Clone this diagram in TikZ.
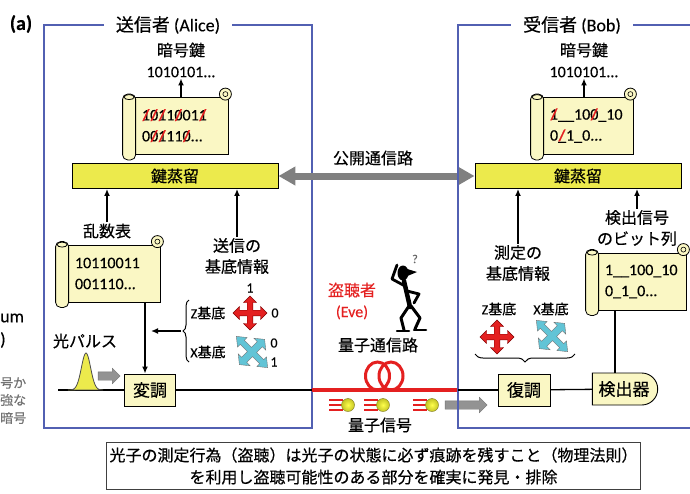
\documentclass[tikz,border=0pt]{standalone}
\usepackage{fontspec}
\setmainfont[FakeBold=0.25]{Carlito}
\newfontfamily\jp[FakeBold=0.5]{Noto Sans CJK JP}
\usetikzlibrary{arrows.meta, shapes.arrows, shapes.misc, positioning, decorations.pathreplacing}

\definecolor{panelcol}{RGB}{82,96,178}
\definecolor{boxcol}{RGB}{236,234,76}
\definecolor{papercol}{RGB}{250,247,196}
\definecolor{sigred}{RGB}{228,32,32}
\definecolor{xcyan}{RGB}{98,196,214}
\definecolor{pipegray}{RGB}{128,128,128}
\definecolor{dotcol}{RGB}{196,196,36}

% struck-out bit
\newcommand\bad[1]{\ooalign{#1\cr\hfil\textcolor{sigred}{\textbf{/}}\hfil\cr}}
% rolled edges of a paper node
\newcommand\scrollends[1]{%
  \draw[line width=0.8pt, fill=papercol, rounded corners=5pt] ([xshift=-12pt,yshift=3pt]#1.north west) rectangle ([xshift=1pt,yshift=-5pt]#1.south west);
  \draw[line width=0.8pt, fill=papercol] ([xshift=-5.5pt,yshift=0pt]#1.north west) ellipse (5pt and 2.5pt);
  \draw[line width=0.8pt, fill=papercol] ([xshift=-3pt,yshift=3pt]#1.north east) circle (6pt);
  \draw[line width=0.6pt] ([xshift=-3pt,yshift=3pt]#1.north east) circle (2.5pt);
}
% four-headed block arrow (basis symbol)
\tikzset{fourway/.pic={
  \path[pic actions] (17,0) -- (10.5,6.5) -- (10.5,2.8) -- (2.8,2.8) -- (2.8,10.5) -- (6.5,10.5) -- (0,17)
    -- (-6.5,10.5) -- (-2.8,10.5) -- (-2.8,2.8) -- (-10.5,2.8) -- (-10.5,6.5) -- (-17,0)
    -- (-10.5,-6.5) -- (-10.5,-2.8) -- (-2.8,-2.8) -- (-2.8,-10.5) -- (-6.5,-10.5) -- (0,-17)
    -- (6.5,-10.5) -- (2.8,-10.5) -- (2.8,-2.8) -- (10.5,-2.8) -- (10.5,-6.5) -- cycle;
}}

\begin{document}
\begin{tikzpicture}[x=1pt, y=-1pt]
\tikzstyle{panel} = [draw=panelcol, line width=1.3pt]
\tikzstyle{ttl} = [fill=white, inner xsep=12pt, font=\fontsize{18}{20}\selectfont]
\tikzstyle{lbl} = [align=center, inner sep=1pt, font=\fontsize{16}{21}\selectfont]
\tikzstyle{jlbl} = [align=center, inner sep=1pt, font=\jp\fontsize{16}{21}\selectfont]
\tikzstyle{small} = [inner sep=1pt, font=\fontsize{14}{16}\selectfont]
\tikzstyle{kdbox} = [draw, line width=0.9pt, fill=boxcol, minimum width=206pt, minimum height=25pt, font=\jp\fontsize{16}{18}\selectfont]
\tikzstyle{opbox} = [draw, line width=0.9pt, fill=papercol, minimum height=32pt, font=\jp\fontsize{17}{18}\selectfont]
\tikzstyle{paper} = [draw, line width=0.8pt, fill=papercol, align=left, minimum height=57pt, inner xsep=7pt, font=\fontsize{16}{21}\selectfont]
\tikzstyle{connect} = [-{Latex[length=7pt,width=6pt]}, line width=1.4pt]
\tikzstyle{wire} = [line width=1.3pt]
\tikzstyle{fiber} = [sigred, line width=3.5pt]
\tikzstyle{pub} = [pipegray, line width=7pt, {Triangle[length=17pt,width=18pt]}-{Triangle[length=17pt,width=18pt]}]
\tikzstyle{blockarr} = [single arrow, draw=black!55, fill=pipegray!85, inner sep=4pt, single arrow head extend=3.5pt]
\tikzstyle{zsym} = [fill=sigred, draw=red!50!black, line width=0.4pt]
\tikzstyle{xsym} = [fill=xcyan, draw=black!55, line width=0.4pt, rotate=45, xscale=1.05, yscale=1.3]
\useasboundingbox (0,0) rectangle (690,493);

% text running in from the left edge
\node[anchor=west, inner sep=0pt, font=\fontsize{18}{20}\selectfont] (cutA) at (0,318) {um};
\node[anchor=west, inner sep=0pt, font=\fontsize{18}{20}\selectfont] (cutB) at (0,340) {)};
\node[anchor=west, inner sep=0pt, text=black!55, font=\jp\fontsize{13}{13}\selectfont] (cutC) at (0,383) {号か};
\node[anchor=west, inner sep=0pt, text=black!55, font=\jp\fontsize{13}{13}\selectfont] (cutD) at (0,400) {強な};
\node[anchor=west, inner sep=0pt, text=black!55, font=\jp\fontsize{13}{13}\selectfont] (cutE) at (0,418) {暗号};

\node[font=\bfseries\fontsize{20}{22}\selectfont] (tag) at (21,24) {(a)};

% ---- sender ----
\draw[panel] (44,25) rectangle (312,428);
\node[ttl] (alice) at (168,25) {{\jp 送信者} (Alice)};

\node[lbl] (keyA) at (181,60) {{\jp 暗号鍵}\\1010101...};
\node[paper, minimum width=93pt, text width=79pt] (siftA) at (181.5,126) {\bad{1}\bad{0}\bad{1}1\bad{0}01\bad{1}\\0\bad{0}\bad{1}11\bad{0}...};
\scrollends{siftA}
\draw[connect] (keyA |- siftA.north) -- (keyA);
\node[kdbox] (kdA) at (175,176) {鍵蒸留};

\node[jlbl] (randlbl) at (107,231) {乱数表};
\node[paper, minimum width=92pt, text width=78pt] (rand) at (114,273.5) {10110011\\001110...};
\scrollends{rand}
\draw[connect] (randlbl) -- (randlbl |- kdA.south);

\node[jlbl] (basisA) at (237,256) {送信の\\基底情報};
\draw[connect] (basisA) -- (basisA |- kdA.south);

\node[small] (zA) at (208,313) {Z{\jp 基底}};
\node[small] (xA) at (208,352) {X{\jp 基底}};
\pic[zsym] at (250,313) {fourway};
\node[small] (z1A) at (250,288) {1};
\node[small] (z0A) at (275,313) {0};
\pic[xsym] at (252,352) {fourway};
\node[small] (x0A) at (274,343) {0};
\node[small] (x1A) at (274,362) {1};
\draw[line width=1pt, decorate, decoration={brace, amplitude=6pt}] (189,362) -- (189,300);
\coordinate (braceA) at (181,331);
\coordinate (joinA) at (151,331);
\draw[connect] (braceA) -- (joinA);

\node[opbox, minimum width=51pt] (mod) at (150,390) {変調};
\draw[connect] ([xshift=-5pt]mod.north |- rand.south) -- ([xshift=-5pt]mod.north);

\coordinate (start) at (58,390);
\coordinate (outA) at (312,390);
\coordinate (inB) at (458,390);
\draw[wire] (start) -- (mod);
\draw[wire] (mod) -- (outA);
\node[jlbl] (pulselbl) at (85,341) {光パルス};
\draw[fill=boxcol, draw=black!70, line width=0.8pt] (68,390) -- plot[smooth, domain=-17:17, samples=35] ({86+\x},{390-37*exp(-1*((\x/6.5)^2))}) -- cycle;
\node[blockarr, minimum height=22pt] (pulsearr) at (107,376) {};

% ---- channels ----
\node[kdbox] (kdB) at (578,176) {鍵蒸留};
\draw[pub] (kdA) -- (kdB);
\node[jlbl] (publbl) at (373,158) {公開通信路};

\node[lbl, text=sigred] (eve) at (352,301) {{\jp 盗聴者}\\(Eve)};
\fill (403,273) ellipse (5.5pt and 7.5pt);
\fill (404,268) -- (417,272) -- (405,277) -- cycle;
\draw[line width=4.5pt, line cap=round] (404,281) -- (410,307);
\draw[line width=2.8pt, line cap=round, line join=round] (405,286) -- (392,279) -- (397,265);
\draw[line width=2.8pt, line cap=round, line join=round] (407,291) -- (419,294) -- (414,303);
\draw[line width=3pt, line cap=round, line join=round] (409,306) -- (401,318) -- (404,330) (411,306) -- (420,318) -- (415,329);
\draw[line width=2.5pt, line cap=round] (397,331) -- (409,331) (414,330) -- (426,330);
\node[text=black!60, font=\fontsize{12}{12}\selectfont] (puzzle) at (415,259) {?};

\node[jlbl] (qchan) at (378,345) {量子通信路};
\draw[fiber] (outA) -- (inB);
\draw[sigred, line width=3pt] (377.5,376) ellipse (12pt and 14pt);
\draw[sigred, line width=3pt] (391,376) ellipse (12pt and 14pt);

\foreach \px in {348,383,432} {
  \foreach \dy in {-5,0,5}
    \draw[sigred, line width=1.1pt] (\px-19,405+\dy) -- (\px-5,405+\dy);
  \shadedraw[draw=olive!80!black, inner color=yellow!70!white, outer color=dotcol] (\px,405) circle (6.5pt);
}
\node[blockarr, minimum height=42pt] (sigarr) at (464,405) {};
\node[jlbl] (qsig) at (380,425) {量子信号};

% ---- receiver ----
\draw[panel] (458,25) rectangle (705,428);
\node[ttl] (bob) at (572,25) {{\jp 受信者} (Bob)};

\node[lbl] (keyB) at (584,60) {{\jp 暗号鍵}\\1010101...};
\node[paper, minimum width=90pt, text width=76pt] (siftB) at (588,126) {\bad{1}\_\_10\bad{0}\_10\\0\bad{\_}1\_0...};
\scrollends{siftB}
\draw[connect] (keyB |- siftB.north) -- (keyB);

\node[jlbl] (basisB) at (518,263) {測定の\\基底情報};
\draw[connect] (basisB) -- (basisB |- kdB.south);
\node[jlbl] (bitlbl) at (637,228) {検出信号\\のビット列};
\draw[connect] (bitlbl) -- (bitlbl |- kdB.south);
\node[paper, minimum width=88pt, text width=74pt] (bits) at (642,281.5) {1\_\_100\_10\\0\_1\_0...};
\scrollends{bits}

\node[small] (zB) at (499,309) {Z{\jp 基底}};
\node[small] (xB) at (551,309) {X{\jp 基底}};
\pic[zsym] at (497,337) {fourway};
\pic[xsym] at (552,336) {fourway};
\draw[line width=1pt, decorate, decoration={brace, amplitude=8pt}] (575,354) -- (475,354);

\node[opbox, minimum width=52pt] (demod) at (524,390) {復調};
\node[opbox, rounded rectangle, rounded rectangle west arc=none, minimum width=72pt] (det) at (624,389) {検出器};
\draw[wire] (inB) -- (demod);
\draw[wire] (demod) -- (det);
\draw[wire] ([xshift=-9pt]det.north) -- ([xshift=-9pt]det.north |- bits.south);

% ---- note ----
\node[draw=black!75, line width=0.8pt, align=center, minimum width=533pt, minimum height=47pt, font=\jp\fontsize{16}{22}\selectfont] (note) at (373.5,466) {光子の測定行為（盗聴）は光子の状態に必ず痕跡を残すこと（物理法則）\\を利用し盗聴可能性のある部分を確実に発見・排除};
\end{tikzpicture}
\end{document}
